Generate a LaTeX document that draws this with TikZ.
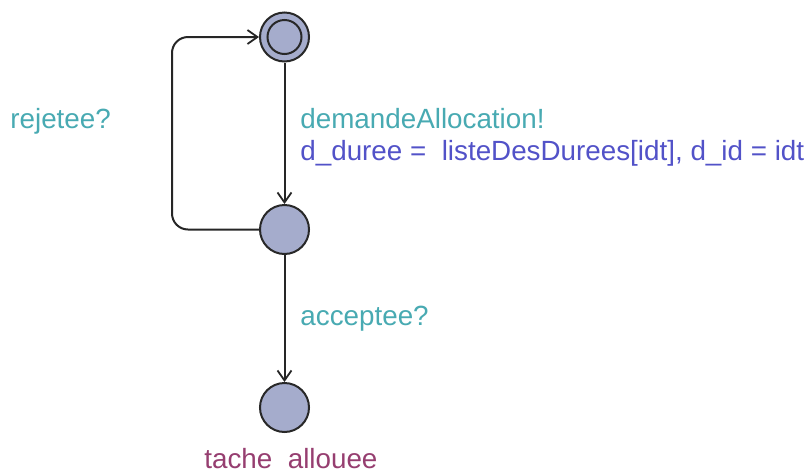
\documentclass[tikz,border=0pt]{standalone}
\usepackage{fontspec}
\setmainfont{Liberation Sans}
\usetikzlibrary{arrows.meta}
\definecolor{locfill}{RGB}{165,172,204}
\definecolor{locdraw}{RGB}{40,40,40}
\definecolor{synccol}{RGB}{72,170,178}
\definecolor{assigncol}{RGB}{82,82,200}
\definecolor{namecol}{RGB}{150,62,112}
\begin{document}
\begin{tikzpicture}[x=0.5pt,y=-0.5pt,
  loc/.style={circle,draw=locdraw,fill=locfill,line width=1pt,minimum size=24.5pt,inner sep=0pt},
  edge/.style={draw=black!85,line width=1pt,-{Straight Barb[length=5pt,width=7pt,line width=0.9pt]}},
  lbl/.style={anchor=base west,inner sep=0pt,font=\fontsize{13.9}{16}\selectfont}]
\useasboundingbox (0,0) rectangle (810,472);
\node[loc] (init) at (284.5,37) {};
\node[circle,draw=locdraw,line width=1pt,minimum size=17pt,inner sep=0pt] (initin) at (284.5,37) {};
\node[loc] (mid) at (284.5,229.5) {};
\node[loc] (fin) at (284.5,407.5) {};
\coordinate (lb) at (172,229.5);
\coordinate (lt) at (172,37);
\draw[edge] (init) -- (mid);
\draw[edge] (mid) -- (fin);
\draw[edge,rounded corners=8pt] (mid.west) -- (lb) -- (lt) -- (init.west);
\node[lbl,text=synccol] (s1) at (10,128) {rejetee?};
\node[lbl,text=synccol] (s2) at (300,128) {demandeAllocation!};
\node[lbl,text=assigncol] (a2) at (300,160) {d\_duree =\ \ listeDesDurees[idt], d\_id = idt};
\node[lbl,text=synccol] (s3) at (300,325) {acceptee?};
\node[lbl,text=namecol] (n3) at (204,468) {tache\ \ allouee};
\end{tikzpicture}
\end{document}
